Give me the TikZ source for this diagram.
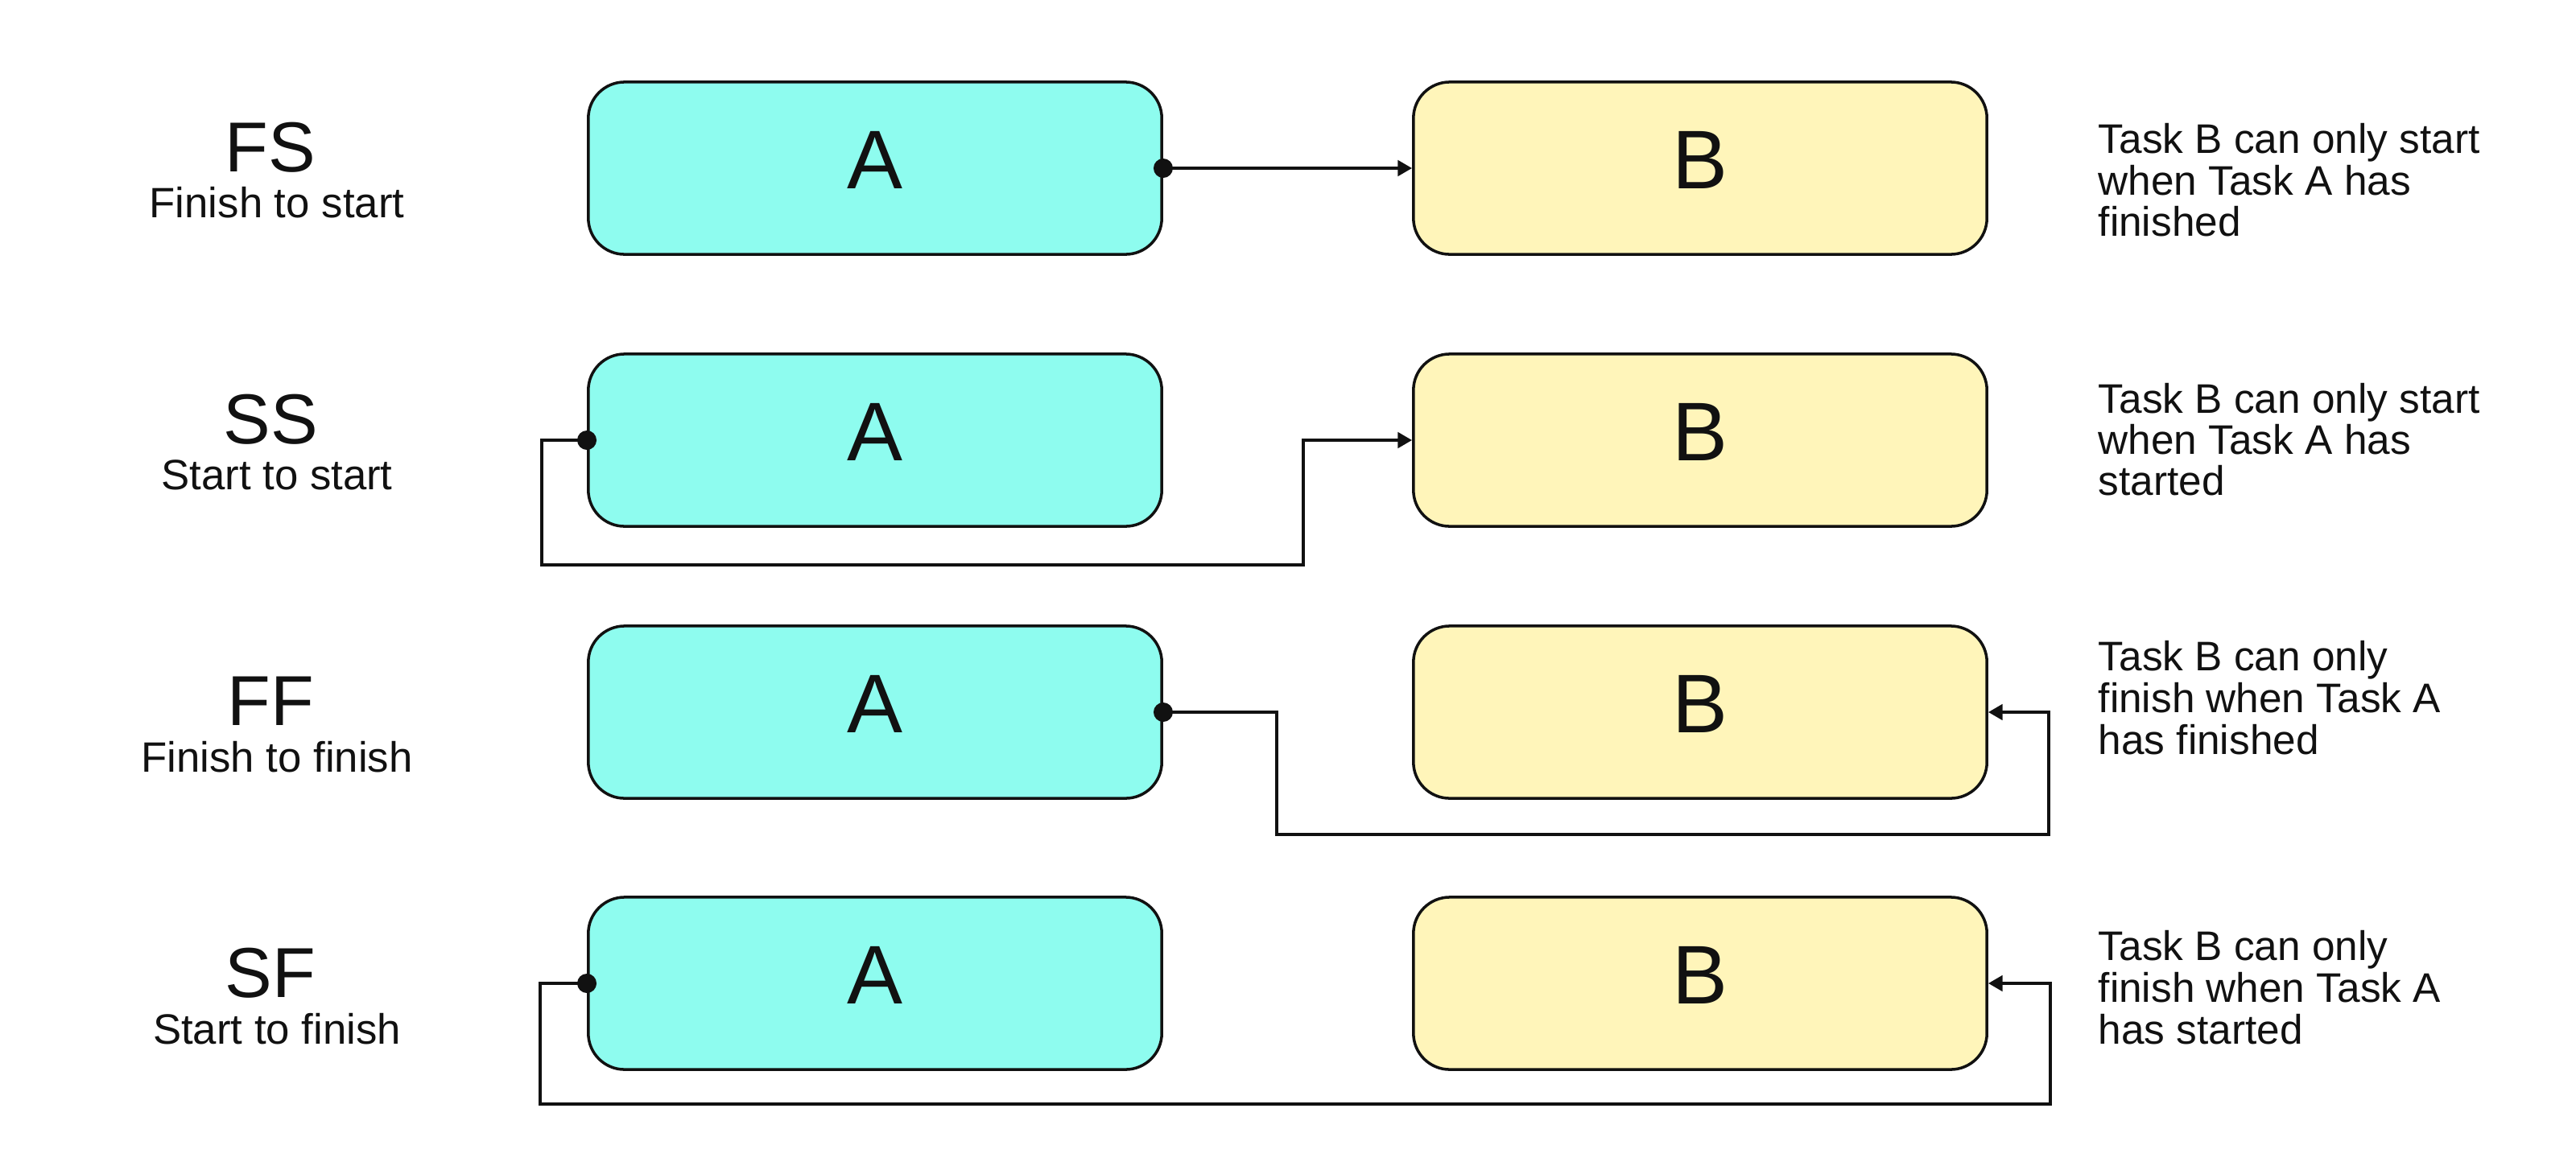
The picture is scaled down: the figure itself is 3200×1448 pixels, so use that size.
\documentclass[tikz,border=0pt]{standalone}
\usepackage{fontspec}
\setmainfont{Liberation Sans}
\usetikzlibrary{arrows.meta}
\definecolor{cyanfill}{RGB}{142,252,239}
\definecolor{yellowfill}{RGB}{255,245,186}
\definecolor{ink}{RGB}{17,17,17}
\begin{document}
\begin{tikzpicture}[x=0.01cm,y=-0.01cm,
  box/.style={draw=ink,line width=1pt,rounded corners=0.45cm,minimum width=7.12cm,minimum height=2.14cm,inner sep=0pt,text depth=0.2cm,font=\fontsize{29.4}{32}\selectfont,text=ink},
  taskA/.style={box,fill=cyanfill},
  taskB/.style={box,fill=yellowfill},
  conn/.style={draw=ink,line width=1pt,-{Triangle[length=5pt,width=5.5pt]}},
  bigcode/.style={anchor=base,font=\fontsize{25}{30}\selectfont,text=ink,inner sep=0pt},
  subcode/.style={anchor=base,font=\fontsize{15}{17}\selectfont,text=ink,inner sep=0pt},
  desc/.style={anchor=base west,font=\fontsize{14.6}{16}\selectfont,text=ink,inner sep=0pt},
  dotr/.style={fill=ink}
]
\useasboundingbox (0,0) rectangle (3200,1448);

% row 1 FS
\node[taskA] (A1) at (1087,209) {A};
\node[taskB] (B1) at (2112,209) {B};
\node[bigcode] (fs) at (336,213) {FS};
\node[subcode] (fsl) at (344,270) {Finish to start};
\node[desc] (d1a) at (2606,190) {Task B can only start};
\node[desc] (d1b) at (2606,242) {when Task A has};
\node[desc] (d1c) at (2606,293) {finished};
\draw[conn] (A1.east) -- (B1.west);
\fill[dotr] (A1.east) circle[radius=0.12cm];

% row 2 SS
\node[taskA] (A2) at (1087,547) {A};
\node[taskB] (B2) at (2112,547) {B};
\node[bigcode] (ss) at (336,551) {SS};
\node[subcode] (ssl) at (344,608) {Start to start};
\node[desc] (d2a) at (2606,513) {Task B can only start};
\node[desc] (d2b) at (2606,564) {when Task A has};
\node[desc] (d2c) at (2606,615) {started};
\coordinate (k2a) at (673,702);
\coordinate (k2b) at (1619,702);
\draw[conn] (A2.west) -| (k2a) -- (k2b) |- (B2.west);
\fill[dotr] (A2.west) circle[radius=0.12cm];

% row 3 FF
\node[taskA] (A3) at (1087,885) {A};
\node[taskB] (B3) at (2112,885) {B};
\node[bigcode] (ff) at (336,901) {FF};
\node[subcode] (ffl) at (344,959) {Finish to finish};
\node[desc] (d3a) at (2606,833) {Task B can only};
\node[desc] (d3b) at (2606,885) {finish when Task A};
\node[desc] (d3c) at (2606,937) {has finished};
\coordinate (k3a) at (1586,1037);
\coordinate (k3b) at (2545,1037);
\draw[conn] (A3.east) -| (k3a) -- (k3b) |- (B3.east);
\fill[dotr] (A3.east) circle[radius=0.12cm];

% row 4 SF
\node[taskA] (A4) at (1087,1222) {A};
\node[taskB] (B4) at (2112,1222) {B};
\node[bigcode] (sf) at (336,1239) {SF};
\node[subcode] (sfl) at (344,1297) {Start to finish};
\node[desc] (d4a) at (2606,1193) {Task B can only};
\node[desc] (d4b) at (2606,1245) {finish when Task A};
\node[desc] (d4c) at (2606,1297) {has started};
\coordinate (k4a) at (671,1372);
\coordinate (k4b) at (2547,1372);
\draw[conn] (A4.west) -| (k4a) -- (k4b) |- (B4.east);
\fill[dotr] (A4.west) circle[radius=0.12cm];
\end{tikzpicture}
\end{document}
